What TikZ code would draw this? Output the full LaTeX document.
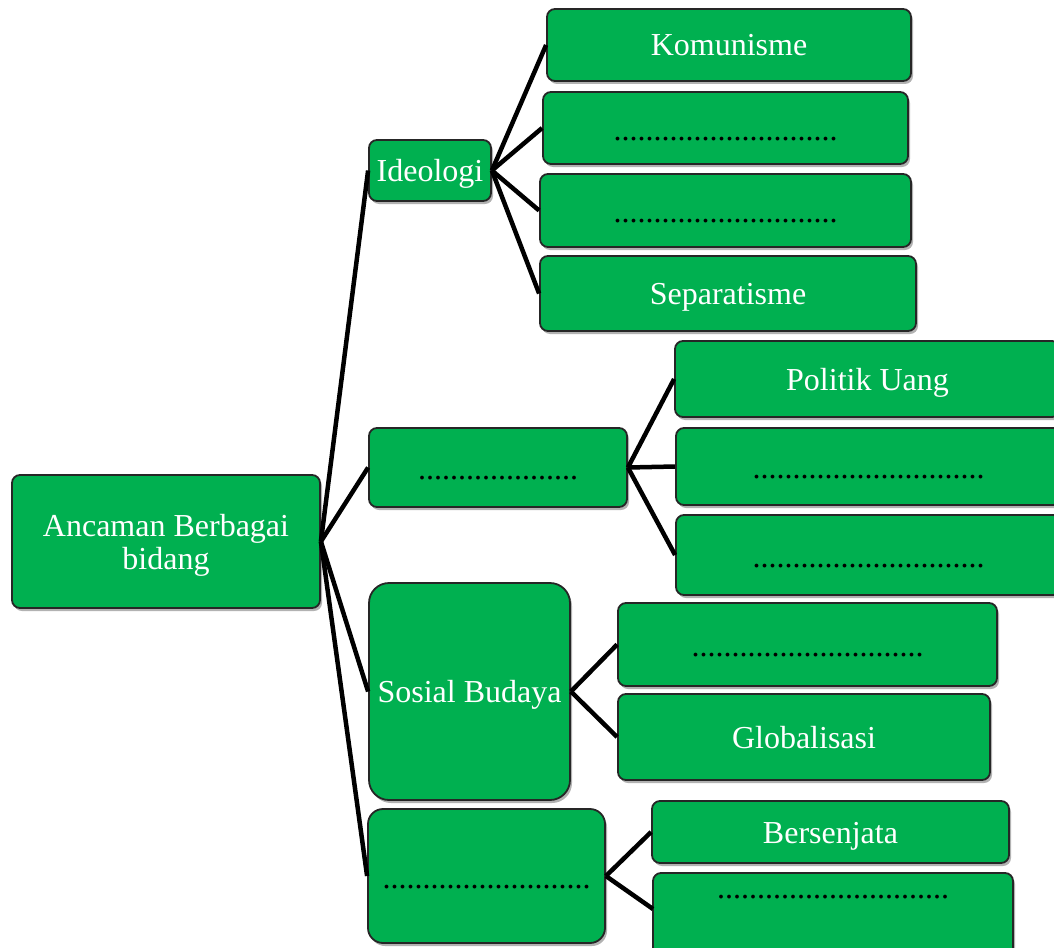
\documentclass[tikz,border=0pt]{standalone}
\usepackage{fontspec}
\setmainfont{Liberation Serif}
\usetikzlibrary{shadows}
\definecolor{boxgreen}{RGB}{0,176,80}
\newcommand{\dotsn}[1]{\foreach \i in {1,...,#1}{.}}
\begin{document}
\begin{tikzpicture}[x=1pt,y=-1pt,
  gbox/.style={draw=black!85, line width=1.8pt, fill=boxgreen, rounded corners=8pt,
     text=white, inner sep=0pt, font=\fontsize{32}{33}\selectfont,
     text height=22pt, text depth=0pt,
     drop shadow={shadow xshift=2pt, shadow yshift=-3pt, fill=black, opacity=0.3}},
  dotbox/.style={gbox, text=black, text height=24pt, text depth=0pt},
  conn/.style={line width=4.5pt, black},
  txt/.style={text=black, inner sep=0pt, font=\fontsize{32}{33}\selectfont, text height=24pt, text depth=0pt},
  wtxt/.style={text=white, inner sep=0pt, font=\fontsize{32}{33}\selectfont, align=center}]
\useasboundingbox (0,0) rectangle (1054,947);
\clip (0,0) rectangle (1054,947);
% root
\node[gbox, minimum width=308pt, minimum height=133pt] (root) at (166,541.5) {};
\node[wtxt] (roott) at (166,545) {Ancaman Berbagai\\bidang};
% level 1
\node[gbox, minimum width=122pt, minimum height=61pt] (ideo) at (430,170.5) {Ideologi};
\node[dotbox, minimum width=258pt, minimum height=79pt] (pol) at (498,467.5) {\dotsn{20}};
\node[gbox, minimum width=201pt, minimum height=217pt, rounded corners=20pt] (sos) at (469.5,691.5) {Sosial Budaya};
\node[dotbox, minimum width=237pt, minimum height=134pt, rounded corners=15pt] (ham) at (486.5,876) {\dotsn{26}};
% ideologi children
\node[gbox, minimum width=364pt, minimum height=72pt] (kom) at (729,45) {Komunisme};
\node[dotbox, minimum width=365pt, minimum height=72pt] (i2) at (725.5,128) {\dotsn{28}};
\node[dotbox, minimum width=371pt, minimum height=73pt] (i3) at (725.5,210.5) {\dotsn{28}};
\node[gbox, minimum width=376pt, minimum height=75pt] (sep) at (728,293.5) {Separatisme};
% politik children
\node[gbox, minimum width=385pt, minimum height=76pt] (pu) at (867.5,379) {Politik Uang};
\node[dotbox, minimum width=385pt, minimum height=77pt] (p2) at (868.5,466.5) {\dotsn{29}};
\node[dotbox, minimum width=385pt, minimum height=80pt] (p3) at (868.5,555) {\dotsn{29}};
% sosial children
\node[dotbox, minimum width=379pt, minimum height=83pt] (s1) at (807.5,644.5) {\dotsn{29}};
\node[gbox, minimum width=372pt, minimum height=86pt] (glob) at (804,737) {Globalisasi};
% bottom children
\node[gbox, minimum width=357pt, minimum height=62pt] (bers) at (830.5,832) {Bersenjata};
\node[gbox, minimum width=360pt, minimum height=90pt] (b2) at (833,918) {};
\node[txt] (b2t) at (833,886) {\dotsn{29}};
\coordinate (b2in) at (653,909);
% connectors
\draw[conn] (root.east) -- (ideo.west);
\draw[conn] (root.east) -- (pol.west);
\draw[conn] (root.east) -- (sos.west);
\draw[conn] (root.east) -- (ham.west);
\draw[conn] (ideo.east) -- (kom.west);
\draw[conn] (ideo.east) -- (i2.west);
\draw[conn] (ideo.east) -- (i3.west);
\draw[conn] (ideo.east) -- (sep.west);
\draw[conn] (pol.east) -- (pu.west);
\draw[conn] (pol.east) -- (p2.west);
\draw[conn] (pol.east) -- (p3.west);
\draw[conn] (sos.east) -- (s1.west);
\draw[conn] (sos.east) -- (glob.west);
\draw[conn] (ham.east) -- (bers.west);
\draw[conn] (ham.east) -- (b2in);
\end{tikzpicture}
\end{document}
